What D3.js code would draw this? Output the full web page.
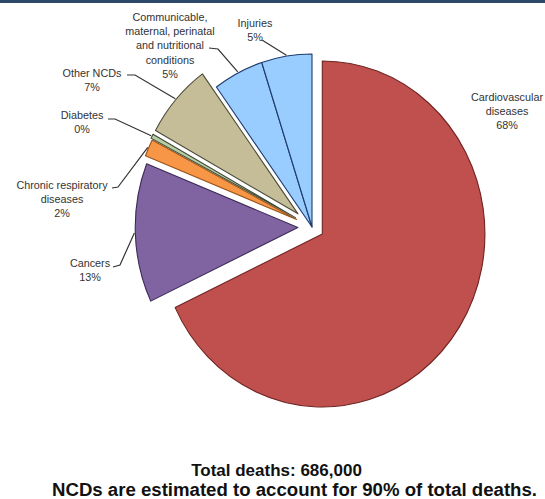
<!DOCTYPE html>
<html>
<head>
<meta charset="utf-8">
<script src="https://cdn.jsdelivr.net/npm/d3@7"></script>
<style>
  html, body { margin: 0; padding: 0; background: #ffffff; }
  svg { display: block; }
</style>
</head>
<body>
<svg id="chart" width="545" height="499"></svg>
<script>
// ---- data ----
const categories = [
  "Cardiovascular\ndiseases",
  "Cancers",
  "Chronic respiratory\ndiseases",
  "Diabetes",
  "Other NCDs",
  "Communicable,\nmaternal, perinatal\nand nutritional\nconditions",
  "Injuries"
];
const values = [68, 13, 1.6, 0.4, 7, 5, 5];          // % of total deaths
const explode = [0.075, 0.087, 0.104, 0.115, 0.115, 0, 0]; // fraction of radius
const colors = ["#c0504d", "#8064a2", "#f79646", "#b7cda4", "#c4bd97", "#99ccff", "#99ccff"];
const strokes = ["#6e2422", "#3b2a57", "#9a5318", "#3f4a36", "#4d4a38", "#1f3c6e", "#1f3c6e"];
const titleLines = ["Total deaths: 686,000", "NCDs are estimated to account for 90% of total deaths."];

// ---- layout ----
const W = 545, H = 499;
const cx = 312, cy = 227, R = 173, sx = 0.94;
const labelLayout = [
  { x: 507, y: 100.5, stub: null },
  { x: 90,  y: 266.5, stub: [[113, 267], [120, 265]] },
  { x: 62,  y: 189,   stub: [[112, 188], [118, 187]] },
  { x: 82,  y: 119,   stub: [[108, 119], [115, 119]] },
  { x: 92,  y: 77,    stub: [[127, 75], [135, 75]] },
  { x: 170, y: 21,    stub: [[209, 48], [218, 49]] },
  { x: 255, y: 27,    stub: [[262, 40]] }
];
const lineH = 14.2;

const svg = d3.select("#chart");
svg.append("rect").attr("x", 0).attr("y", 0).attr("width", W).attr("height", H).attr("fill", "#fff");
svg.append("rect").attr("x", 0).attr("y", 0).attr("width", W).attr("height", 3).attr("fill", "#2f4a68");

const pie = d3.pie().sort(null).value(d => d).startAngle(0).endAngle(2 * Math.PI);
const arcs = pie(values);
const arc = d3.arc().innerRadius(0).outerRadius(R);

const slices = arcs.map((a, i) => {
  const mid = (a.startAngle + a.endAngle) / 2;
  const e = explode[i] * R;
  const ox = cx + sx * Math.sin(mid) * e;
  const oy = cy - Math.cos(mid) * e;
  return { a, i, mid, ox, oy };
});

const g = svg.append("g");
g.selectAll("path.slice")
  .data(slices)
  .join("path")
  .attr("class", "slice")
  .attr("transform", d => `translate(${d.ox},${d.oy}) scale(${sx},1)`)
  .attr("d", d => arc(d.a))
  .attr("fill", d => colors[d.i])
  .attr("stroke", d => strokes[d.i])
  .attr("stroke-width", 1.1)
  .attr("vector-effect", "non-scaling-stroke")
  .attr("stroke-linejoin", "round");

// leader lines
const line = d3.line();
slices.forEach(d => {
  const L = labelLayout[d.i];
  if (!L.stub) return;
  const end = [d.ox + sx * Math.sin(d.mid) * (R + 1), d.oy - Math.cos(d.mid) * (R + 1)];
  svg.append("path")
    .attr("d", line([...L.stub, end]))
    .attr("fill", "none")
    .attr("stroke", "#333")
    .attr("stroke-width", 1.2);
});

// labels
slices.forEach(d => {
  const L = labelLayout[d.i];
  const lines = categories[d.i].split("\n").concat([Math.round(values[d.i]) + "%"]);
  const t = svg.append("text")
    .attr("text-anchor", "middle")
    .attr("font-family", "Liberation Sans, Arial, sans-serif")
    .attr("font-size", 10.8)
    .attr("fill", "#333");
  lines.forEach((s, k) => {
    t.append("tspan").attr("x", L.x).attr("y", L.y + k * lineH).text(s);
  });
});

// bottom title
svg.append("text")
  .attr("x", 276.5).attr("y", 476)
  .attr("text-anchor", "middle")
  .attr("font-family", "Liberation Sans, Arial, sans-serif")
  .attr("font-weight", "bold").attr("font-size", 17)
  .attr("fill", "#111")
  .text(titleLines[0]);
svg.append("text")
  .attr("x", 52).attr("y", 496)
  .attr("text-anchor", "start")
  .attr("font-family", "Liberation Sans, Arial, sans-serif")
  .attr("font-weight", "bold").attr("font-size", 17.5)
  .attr("textLength", 485).attr("lengthAdjust", "spacingAndGlyphs")
  .attr("fill", "#111")
  .text(titleLines[1]);
</script>
</body>
</html>
